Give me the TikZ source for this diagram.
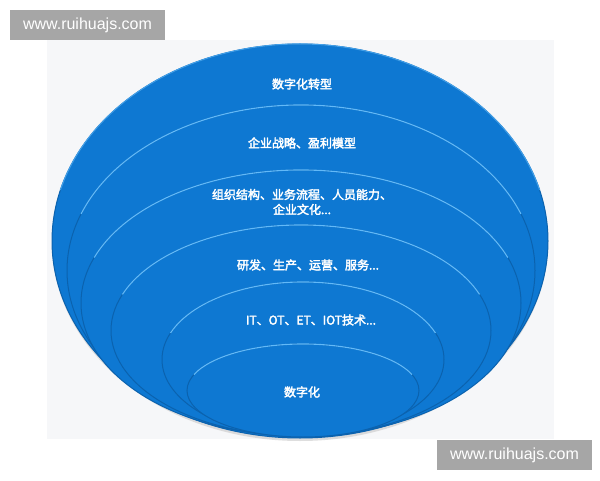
\documentclass[tikz,border=0pt]{standalone}
\usepackage{fontspec}
\newfontfamily\cjkb{Noto Sans CJK SC}[FakeBold=2.8]
\newfontfamily\wmfont{Liberation Sans}
\definecolor{panelbg}{HTML}{F6F7F9}
\definecolor{discblue}{HTML}{0E78D2}
\definecolor{rimdark}{HTML}{0B62AE}
\definecolor{rimlight}{HTML}{62B9F8}
\definecolor{wmgray}{HTML}{A6A6A6}
\tikzset{
  disc/.style={fill=discblue, draw=rimdark, line width=1pt},
  rim/.style={draw=rimlight, line width=1.1pt},
  lbl/.style={text=white, font=\cjkb\fontsize{12}{15}\selectfont, align=center, inner sep=0pt},
  wm/.style={fill=wmgray, text=white, font=\wmfont\fontsize{16}{18}\selectfont, minimum width=155pt, minimum height=30pt, inner sep=0pt},
}
\begin{document}
\begin{tikzpicture}[x=1pt,y=1pt]
\useasboundingbox (0,0) rectangle (600,480);
\fill[white] (0,0) rectangle (600,480);
\fill[panelbg] (47,41) rectangle (554,440);
% shadow under outer disc
\fill[black!25, opacity=0.5] (300,237) ellipse [x radius=248, y radius=198];
% discs (y_tikz = 480 - y_px)
\path[disc] (300,239) ellipse [x radius=248, y radius=197];
\draw[rim, draw=rimlight!60!discblue] (300,239) ++(165:248 and 197) arc [start angle=165, end angle=15, x radius=248, y radius=197];
\path[disc] (301,209.5) ellipse [x radius=234, y radius=165.5];
\draw[rim] (301,209.5) ++(160:234 and 165.5) arc [start angle=160, end angle=20, x radius=234, y radius=165.5];
\path[disc] (301,177) ellipse [x radius=220, y radius=133];
\draw[rim] (301,177) ++(160:220 and 133) arc [start angle=160, end angle=20, x radius=220, y radius=133];
\path[disc] (301,149.5) ellipse [x radius=190, y radius=105.5];
\draw[rim] (301,149.5) ++(160:190 and 105.5) arc [start angle=160, end angle=20, x radius=190, y radius=105.5];
\path[disc] (303,120.5) ellipse [x radius=141, y radius=77.5];
\draw[rim] (303,120.5) ++(160:141 and 77.5) arc [start angle=160, end angle=20, x radius=141, y radius=77.5];
\path[disc] (303,89.5) ellipse [x radius=116, y radius=46.5];
\draw[rim] (303,89.5) ++(160:116 and 46.5) arc [start angle=160, end angle=20, x radius=116, y radius=46.5];
% labels
\node[lbl] (t1) at (302,396) {数字化转型};
\node[lbl] (t2) at (302,337) {企业战略、盈利模型};
\node[lbl] (t3) at (302,278) {组织结构、业务流程、人员能力、\\企业文化...};
\node[lbl] (t4) at (308,215) {研发、生产、运营、服务...};
\node[lbl] (t5) at (311,160) {IT、OT、ET、IOT技术...};
\node[lbl] (t6) at (302,88) {数字化};
% watermarks
\node[wm] (w1) at (87.5,455) {www.ruihuajs.com};
\node[wm] (w2) at (514.5,25) {www.ruihuajs.com};
\end{tikzpicture}
\end{document}
